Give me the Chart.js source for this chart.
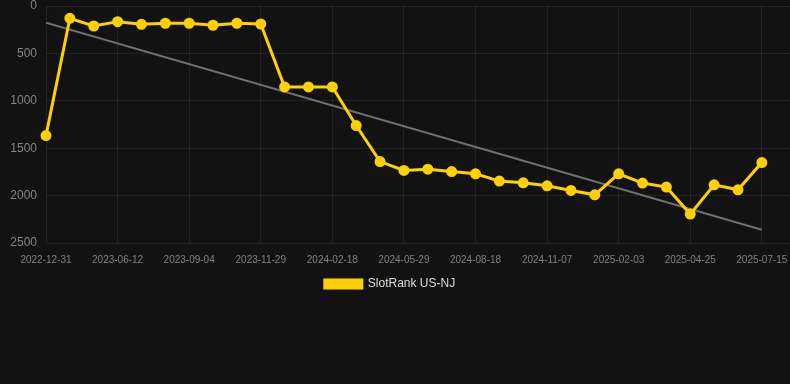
<!DOCTYPE html>
<html>
<head>
<meta charset="utf-8">
<title>SlotRank US-NJ</title>
<script src="https://cdn.jsdelivr.net/npm/chart.js@4/dist/chart.umd.min.js"></script>
<style>
  html, body { margin: 0; padding: 0; background: #121212; }
  #wrap { position: relative; width: 790px; height: 300px; }
</style>
</head>
<body>
<div id="wrap"><canvas id="rankChart"></canvas></div>
<script>
// Rank history (lower = better, axis reversed)
const dates = [
  '2022-12-31', '2023-04-18', '2023-05-15', '2023-06-12', '2023-07-10', '2023-08-07',
  '2023-09-04', '2023-10-02', '2023-10-31', '2023-11-29', '2023-12-26', '2024-01-22',
  '2024-02-18', '2024-03-21', '2024-04-25', '2024-05-29', '2024-06-25', '2024-07-22',
  '2024-08-18', '2024-09-14', '2024-10-11', '2024-11-07', '2024-12-07', '2025-01-05',
  '2025-02-03', '2025-03-02', '2025-03-29', '2025-04-25', '2025-05-22', '2025-06-18',
  '2025-07-15'
];
const ranks = [
  1367, 130, 211, 165, 193, 182,
  182, 203, 182, 190, 854, 854,
  854, 1261, 1641, 1735, 1721, 1746,
  1770, 1847, 1865, 1897, 1946, 1992,
  1770, 1868, 1910, 2195, 1886, 1939,
  1651
];
// trend line end points
const trendEnds = [176, 2360];
const yTicks = [0, 500, 1000, 1500, 2000, 2500];

const YELLOW = '#FFD100';
const GRID = 'rgba(255,255,255,0.07)';

function renderChart() {
  const ctx = document.getElementById('rankChart').getContext('2d');
  const lastIdx = dates.length - 1;

  new Chart(ctx, {
    type: 'line',
    data: {
      datasets: [
        {
          label: 'SlotRank US-NJ',
          data: ranks.map((r, i) => ({ x: i, y: r })),
          borderColor: YELLOW,
          backgroundColor: YELLOW,
          pointBackgroundColor: YELLOW,
          pointBorderColor: YELLOW,
          borderWidth: 3,
          pointRadius: 4,
          tension: 0,
          clip: false
        },
        {
          label: 'trend',
          data: [{ x: 0, y: trendEnds[0] }, { x: lastIdx, y: trendEnds[1] }],
          borderColor: '#707070',
          borderWidth: 2,
          pointRadius: 0,
          tension: 0
        }
      ]
    },
    options: {
      responsive: true,
      maintainAspectRatio: false,
      animation: false,
      layout: { autoPadding: false, padding: { top: 6, left: -10, right: 0, bottom: 0 } },
      plugins: {
        legend: {
          position: 'bottom',
          labels: {
            color: '#dddddd',
            font: { size: 12 },
            boxWidth: 37,
            boxHeight: 8,
            filter: item => item.datasetIndex === 0
          }
        },
        tooltip: { enabled: false }
      },
      scales: {
        x: {
          type: 'linear',
          min: 0,
          max: 31.18,
          grid: { color: GRID, drawTicks: false },
          border: { display: false },
          afterFit: s => { s.paddingLeft = 0; s.paddingRight = 0; s.height -= 9; },
          ticks: {
            stepSize: 3,
            includeBounds: false,
            autoSkip: false,
            maxRotation: 0,
            padding: 11,
            color: '#808080',
            font: { size: 10 },
            callback: v => (Number.isInteger(v) && dates[v]) ? dates[v] : ''
          }
        },
        y: {
          reverse: true,
          min: yTicks[0],
          max: yTicks[yTicks.length - 1],
          grid: { color: GRID, drawTicks: false },
          border: { display: false },
          afterFit: s => { s.width = 56; s.paddingTop = 0; s.paddingBottom = 0; },
          afterBuildTicks: s => { s.ticks = yTicks.map(v => ({ value: v })); },
          ticks: {
            padding: 9,
            color: '#858585',
            font: { size: 12 },
            callback: v => String(v)
          }
        }
      }
    }
  });
}

document.addEventListener('DOMContentLoaded', renderChart);
</script>
</body>
</html>
